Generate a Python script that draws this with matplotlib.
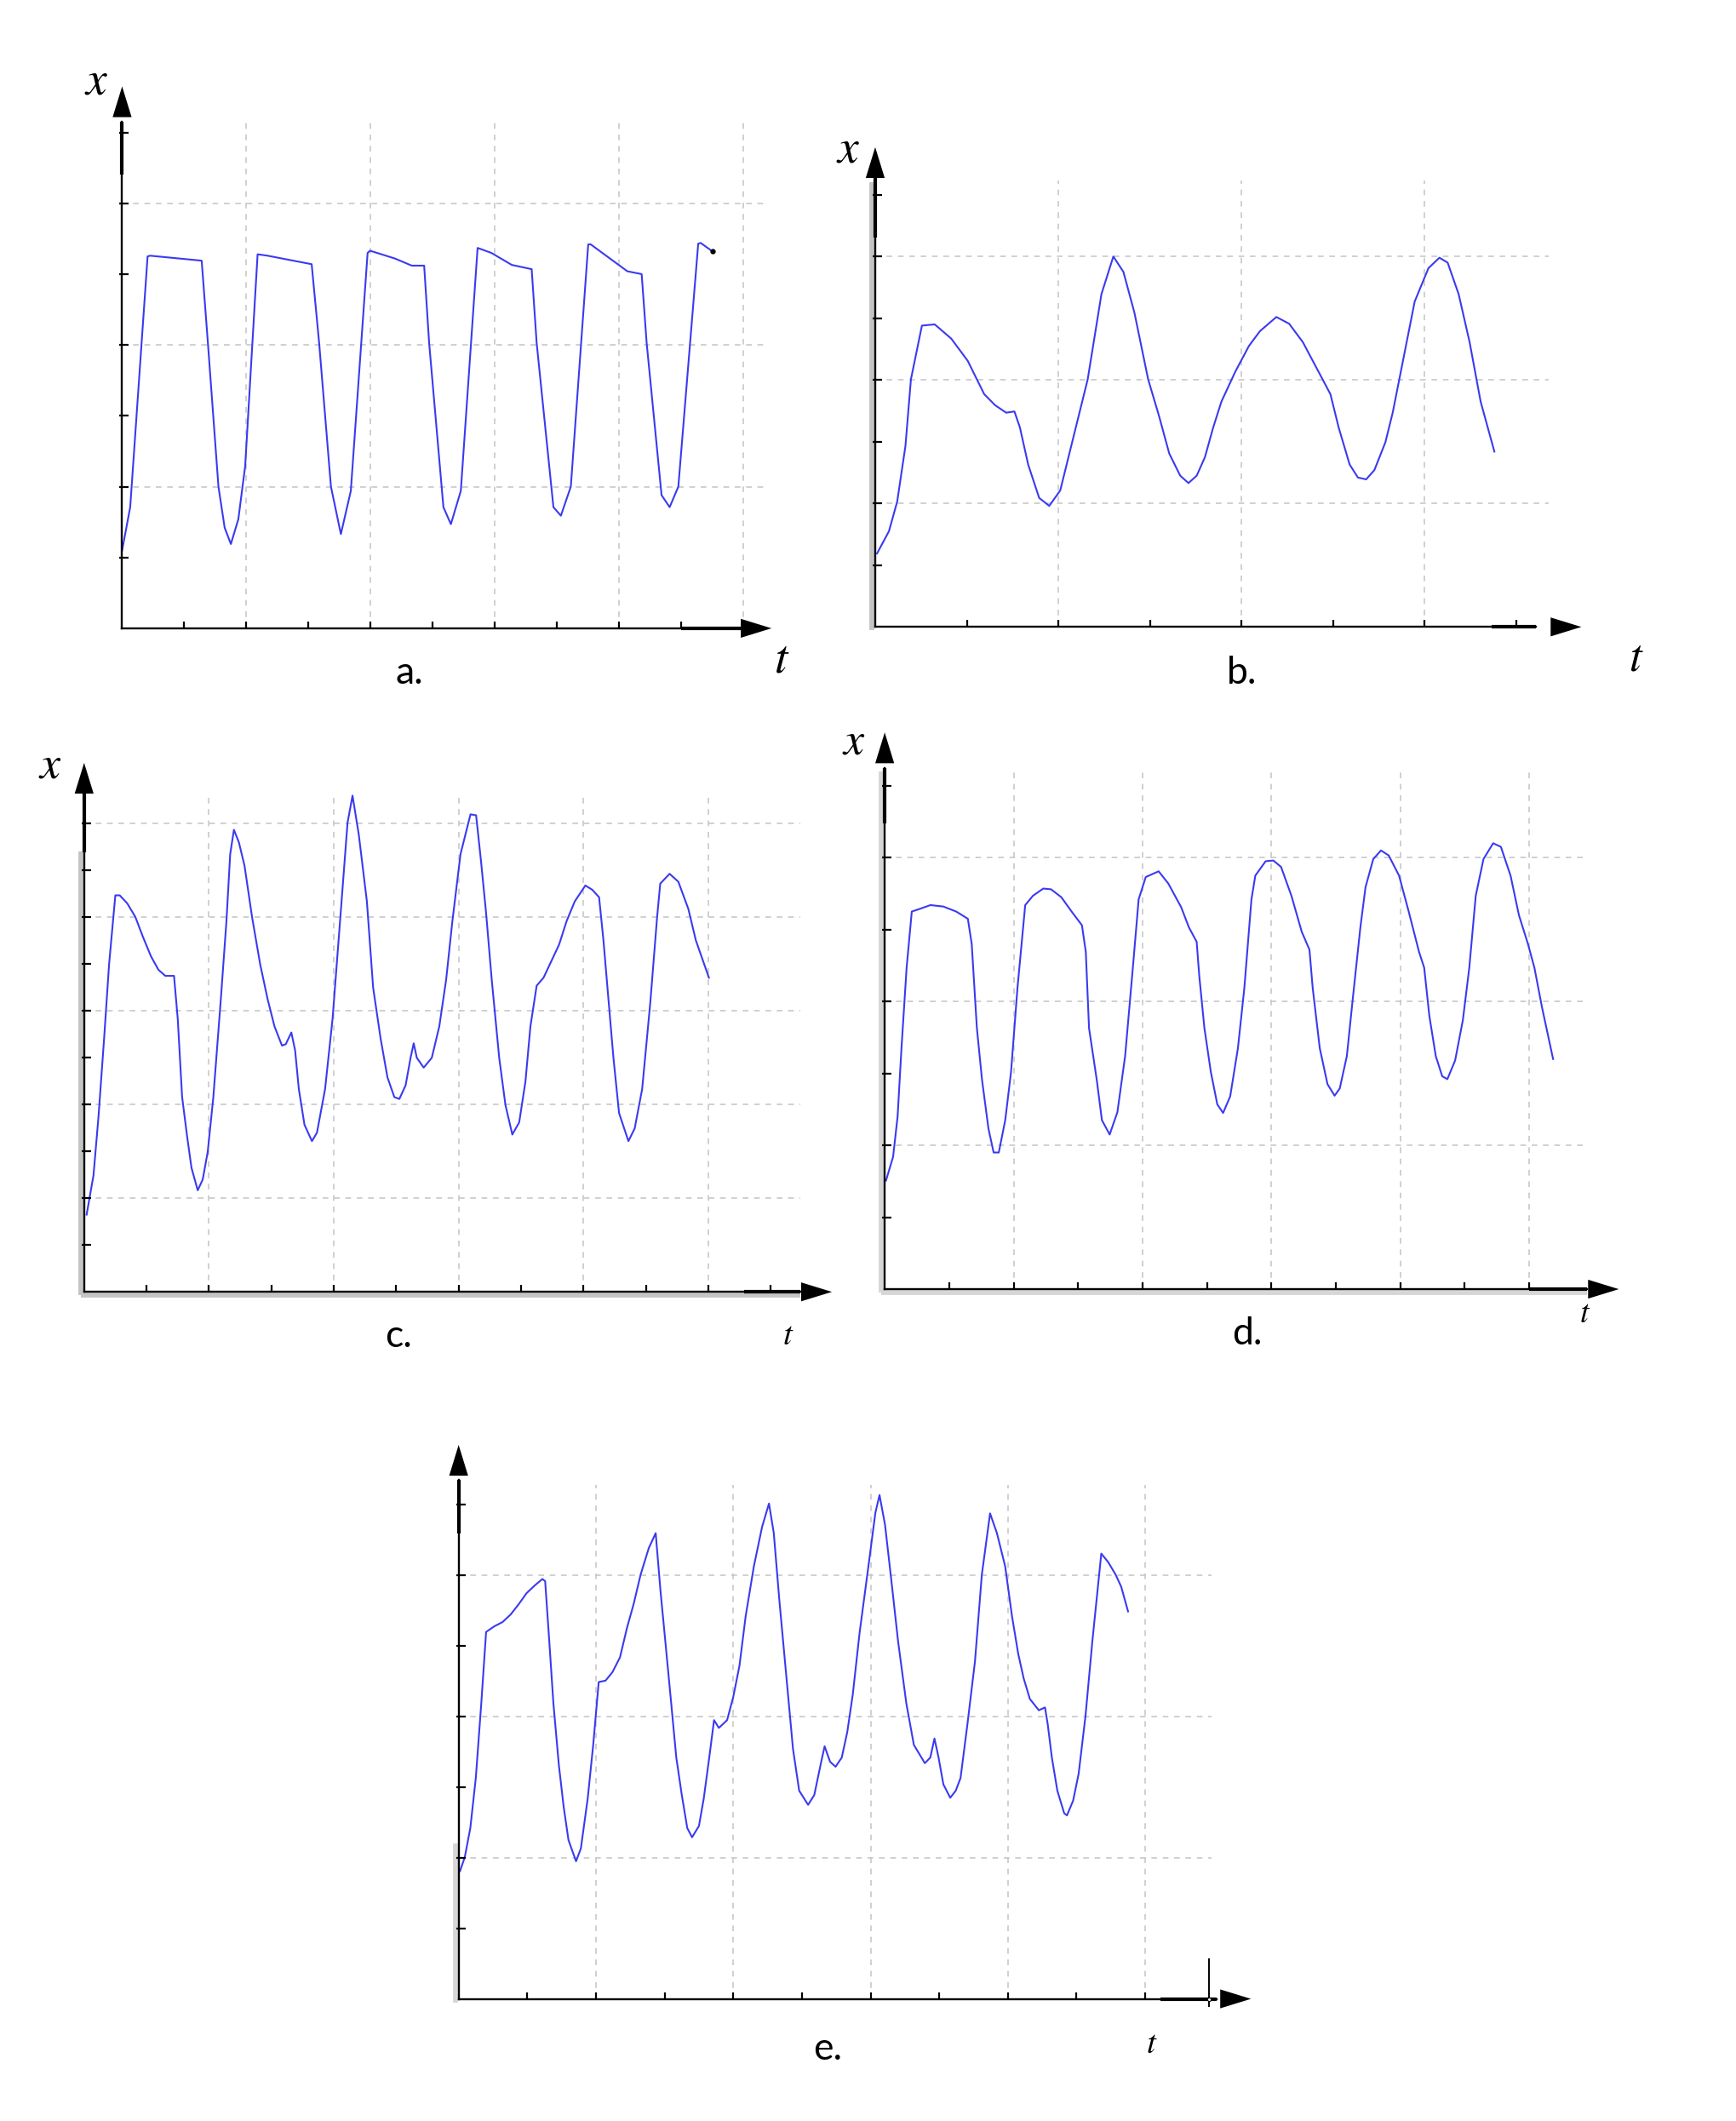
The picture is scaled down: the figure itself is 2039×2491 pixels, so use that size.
import matplotlib.pyplot as plt

plt.rcParams['mathtext.fontset'] = 'stix'

# reference layout grid (scaled view of the 2040x2491 picture)
W, H = 1280, 1563
BLUE = '#3a3af0'
GRID = '#c8c8c8'

# ---- curve data, in grid units (one unit = half a grid cell) ----
a_t = [0, 0.13, 0.41, 0.45, 1.28, 1.38, 1.55, 1.65, 1.75, 1.87, 1.98, 2.18,
       2.34, 3.05, 3.17, 3.36, 3.52, 3.68, 3.95, 3.99, 4.39, 4.66, 4.86,
       4.94, 5.17, 5.29, 5.45, 5.72, 5.94, 6.27, 6.59, 6.67, 6.94, 7.06,
       7.22, 7.5, 7.54, 7.85, 8.13, 8.36, 8.44, 8.68, 8.81, 8.95, 9.27,
       9.31, 9.5]
a_x = [1.1, 1.71, 5.25, 5.26, 5.19, 4.03, 2.0, 1.42, 1.19, 1.54, 2.29, 5.28,
       5.26, 5.14, 4.03, 2.0, 1.33, 1.94, 5.3, 5.33, 5.22, 5.12, 5.12,
       4.03, 1.71, 1.47, 1.94, 5.37, 5.3, 5.13, 5.07, 4.03, 1.71, 1.59,
       2.0, 5.42, 5.42, 5.22, 5.04, 5.0, 4.03, 1.88, 1.71, 2.0, 5.43,
       5.44, 5.32]

b_t = [0.02, 0.15, 0.24, 0.33, 0.39, 0.51, 0.65, 0.83, 1.01, 1.19, 1.31,
       1.43, 1.52, 1.58, 1.67, 1.79, 1.9, 2.02, 2.14, 2.32, 2.47, 2.6, 2.71,
       2.83, 2.98, 3.1, 3.21, 3.33, 3.42, 3.51, 3.6, 3.69, 3.78, 3.93, 4.08,
       4.2, 4.38, 4.52, 4.67, 4.82, 4.97, 5.06, 5.18, 5.27, 5.36, 5.45,
       5.57, 5.65, 5.77, 5.89, 6.04, 6.16, 6.25, 6.37, 6.49, 6.61, 6.76]
b_x = [1.19, 1.55, 2.03, 2.93, 4.01, 4.88, 4.9, 4.67, 4.31, 3.77, 3.59,
       3.47, 3.49, 3.23, 2.63, 2.09, 1.96, 2.21, 2.93, 4.01, 5.39, 6.0, 5.75,
       5.09, 4.01, 3.41, 2.81, 2.45, 2.33, 2.45, 2.75, 3.23, 3.65, 4.13, 4.55,
       4.79, 5.02, 4.91, 4.61, 4.19, 3.77, 3.23, 2.63, 2.42, 2.39, 2.54,
       2.99, 3.47, 4.37, 5.27, 5.81, 5.98, 5.9, 5.39, 4.61, 3.65, 2.84]

c_t = [0.04, 0.15, 0.23, 0.32, 0.4, 0.5, 0.57, 0.69, 0.82, 0.94, 1.07, 1.19,
       1.3, 1.44, 1.5, 1.57, 1.65, 1.72, 1.82, 1.9, 1.98, 2.07, 2.19, 2.28,
       2.34, 2.4, 2.48, 2.57, 2.69, 2.82, 2.94, 3.05, 3.17, 3.23, 3.32, 3.38,
       3.44, 3.53, 3.65, 3.73, 3.86, 3.98, 4.11, 4.22, 4.3, 4.4, 4.53, 4.63,
       4.75, 4.86, 4.97, 5.05, 5.15, 5.23, 5.28, 5.33, 5.44, 5.57, 5.69,
       5.8, 5.9, 6.03, 6.19, 6.28, 6.36, 6.44, 6.53, 6.65, 6.75, 6.86, 6.97,
       7.07, 7.15, 7.25, 7.36, 7.48, 7.61, 7.73, 7.86, 8.03, 8.14, 8.25,
       8.32, 8.4, 8.48, 8.57, 8.72, 8.82, 8.94, 9.07, 9.18, 9.23, 9.38,
       9.52, 9.68, 9.8, 10.01]
c_x = [1.65, 2.49, 3.74, 5.41, 7.0, 8.47, 8.47, 8.3, 8.01, 7.59, 7.17, 6.88,
       6.75, 6.75, 5.83, 4.16, 3.32, 2.65, 2.17, 2.4, 2.99, 4.16, 6.25, 7.92,
       9.35, 9.87, 9.6, 9.1, 8.01, 7.0, 6.25, 5.67, 5.26, 5.29, 5.54, 5.16,
       4.33, 3.57, 3.22, 3.4, 4.33, 5.83, 8.09, 10.02, 10.6, 9.77, 8.34, 6.5,
       5.41, 4.58, 4.16, 4.12, 4.41, 5.0, 5.31, 5.0, 4.79, 5.0, 5.67,
       6.67, 7.92, 9.35, 10.2, 10.18, 9.18, 8.09, 6.67, 5.0, 3.99, 3.36, 3.62,
       4.49, 5.67, 6.54, 6.71, 7.05, 7.42, 7.92, 8.34, 8.68, 8.59, 8.43,
       7.51, 6.25, 5.0, 3.82, 3.22, 3.49, 4.33, 6.17, 8.01, 8.72, 8.93,
       8.76, 8.18, 7.51, 6.71]

d_t = [0.02, 0.13, 0.2, 0.26, 0.34, 0.42, 0.52, 0.71, 0.91, 1.11, 1.29,
       1.35, 1.43, 1.51, 1.61, 1.69, 1.77, 1.87, 1.96, 2.06, 2.18, 2.3, 2.46,
       2.58, 2.74, 2.9, 3.06, 3.12, 3.17, 3.29, 3.37, 3.49, 3.61, 3.73, 3.85,
       3.94, 4.05, 4.25, 4.4, 4.6, 4.72, 4.84, 4.88, 4.96, 5.06, 5.16, 5.25,
       5.36, 5.48, 5.58, 5.69, 5.75, 5.91, 6.03, 6.15, 6.31, 6.47, 6.59,
       6.64, 6.75, 6.87, 6.98, 7.06, 7.17, 7.26, 7.38, 7.46, 7.58, 7.7, 7.82,
       7.98, 8.13, 8.29, 8.37, 8.45, 8.55, 8.65, 8.73, 8.85, 8.97, 9.07,
       9.17, 9.29, 9.44, 9.56, 9.71, 9.84, 9.98, 10.08, 10.2, 10.37]
d_x = [1.51, 1.84, 2.4, 3.35, 4.47, 5.25, 5.28, 5.34, 5.32, 5.25, 5.15,
       4.8, 3.63, 2.91, 2.23, 1.9, 1.9, 2.35, 3.02, 4.19, 5.34, 5.47, 5.57,
       5.56, 5.45, 5.25, 5.06, 4.69, 3.63, 2.91, 2.35, 2.15, 2.46, 3.24, 4.47,
       5.42, 5.73, 5.81, 5.64, 5.31, 5.03, 4.83, 4.36, 3.63, 3.02, 2.57, 2.45,
       2.68, 3.35, 4.19, 5.42, 5.75, 5.95, 5.96, 5.87, 5.47, 4.97, 4.72,
       4.19, 3.35, 2.85, 2.69, 2.79, 3.24, 4.02, 5.03, 5.59, 5.98, 6.1, 6.03,
       5.75, 5.25, 4.69, 4.47, 3.8, 3.24, 2.96, 2.92, 3.18, 3.74, 4.47,
       5.47, 5.98, 6.2, 6.15, 5.75, 5.2, 4.8, 4.47, 3.91, 3.2]

e_t = [0.02, 0.09, 0.17, 0.25, 0.33, 0.4, 0.52, 0.64, 0.76, 0.88, 0.99,
       1.11, 1.22, 1.26, 1.32, 1.38, 1.46, 1.53, 1.6, 1.71, 1.78, 1.88, 1.96,
       2.04, 2.14, 2.24, 2.35, 2.45, 2.55, 2.65, 2.77, 2.87, 2.94, 3.01, 3.09,
       3.17, 3.25, 3.33, 3.4, 3.5, 3.57, 3.65, 3.72, 3.79, 3.91, 4.0, 4.09,
       4.18, 4.3, 4.42, 4.52, 4.59, 4.67, 4.77, 4.87, 4.96, 5.09, 5.18, 5.27,
       5.33, 5.41, 5.49, 5.58, 5.66, 5.74, 5.84, 5.96, 6.07, 6.13, 6.21, 6.3,
       6.4, 6.52, 6.63, 6.79, 6.87, 6.93, 6.99, 7.06, 7.16, 7.24, 7.31, 7.41,
       7.52, 7.62, 7.74, 7.84, 7.96, 8.06, 8.15, 8.23, 8.32, 8.45, 8.54,
       8.58, 8.64, 8.72, 8.82, 8.86, 8.95, 9.03, 9.13, 9.23, 9.36, 9.46,
       9.57, 9.65, 9.75]
e_x = [1.81, 2.01, 2.42, 3.13, 4.19, 5.2, 5.28, 5.34, 5.45, 5.6, 5.75,
       5.86, 5.95, 5.92, 5.07, 4.19, 3.31, 2.72, 2.25, 1.95, 2.13, 2.84, 3.6,
       4.49, 4.51, 4.63, 4.84, 5.25, 5.6, 6.01, 6.39, 6.6, 5.78, 5.07, 4.25,
       3.42, 2.89, 2.42, 2.29, 2.45, 2.84, 3.42, 3.95, 3.84, 3.95, 4.28, 4.72,
       5.42, 6.13, 6.69, 7.02, 6.6, 5.66, 4.6, 3.54, 2.95, 2.75, 2.89, 3.31,
       3.58, 3.36, 3.29, 3.42, 3.78, 4.31, 5.19, 6.07, 6.89, 7.14, 6.72, 5.95,
       5.07, 4.19, 3.6, 3.34, 3.42, 3.69, 3.42, 3.04, 2.85, 2.95, 3.13, 3.89,
       4.78, 6.01, 6.88, 6.6, 6.13, 5.42, 4.89, 4.54, 4.25, 4.09, 4.13,
       3.89, 3.42, 2.95, 2.63, 2.6, 2.81, 3.19, 4.01, 5.07, 6.31, 6.19,
       6.01, 5.84, 5.49]


fig = plt.figure(figsize=(20.4, 24.91), dpi=100)


def panel(ox, oy, ux, uy, x0, x1, y0, y1):
    left = (ox + x0 * ux) / W
    right = (ox + x1 * ux) / W
    bottom = 1 - (oy - y0 * uy) / H
    top = 1 - (oy - y1 * uy) / H
    ax = fig.add_axes([left, bottom, right - left, top - bottom])
    ax.set_xlim(x0, x1)
    ax.set_ylim(y0, y1)
    ax.axis('off')
    return ax


def frame(ax, ux, uy, xgrid, ygrid, gtop, gright, nxt, nyt, xtip, ytip,
          xthick, ythick, band=None):
    dash = (0, (4, 4))
    ax.vlines(xgrid, 0, gtop, colors=GRID, lw=1.2, linestyles=dash, zorder=1)
    ax.hlines(ygrid, 0, gright, colors=GRID, lw=1.2, linestyles=dash, zorder=1)
    if band is not None:
        col, y_top, x_right = band
        off_x = 2.6 / ux
        off_y = 2.6 / uy
        ax.plot([-off_x, -off_x], [-off_y, y_top], color=col, lw=4.2,
                solid_capstyle='butt', zorder=1.5)
        if x_right:
            ax.plot([-off_x, x_right], [-off_y, -off_y], color=col, lw=4.2,
                    solid_capstyle='butt', zorder=1.5)
    # axis lines
    ax.plot([0, xtip - 0.5], [0, 0], color='k', lw=1.7, zorder=3)
    ax.plot([0, 0], [0, ytip - 0.5], color='k', lw=1.7, zorder=3)
    ax.plot([xthick, xtip - 0.5], [0, 0], color='k', lw=3.0, zorder=3,
            solid_capstyle='butt')
    ax.plot([0, 0], [ythick, ytip - 0.5], color='k', lw=3.0, zorder=3,
            solid_capstyle='butt')
    # ticks
    xt = list(range(1, nxt + 1))
    yt = list(range(1, nyt + 1))
    ax.plot(xt, [0] * len(xt), ls='', marker=2, ms=6, mew=1.6, color='k',
            zorder=3)
    ax.plot([0] * len(yt), yt, ls='', marker=1, ms=6, mew=1.6, color='k',
            zorder=3)
    ax.plot([0] * len(yt), yt, ls='', marker=0, ms=2.5, mew=1.6, color='k',
            zorder=3)
    # arrow heads
    hp = dict(arrowstyle='-|>,head_length=2.6,head_width=0.8',
              mutation_scale=10, color='k', lw=0, shrinkA=0, shrinkB=0)
    ax.annotate('', xy=(xtip, 0), xytext=(xtip - 0.6, 0), arrowprops=hp)
    ax.annotate('', xy=(0, ytip), xytext=(0, ytip - 0.6), arrowprops=hp)


def label(x, y, s, kind, size):
    fx, fy = x / W, 1 - y / H
    if kind == 'var':
        fig.text(fx, fy, '$%s$' % s, fontsize=size, ha='center', va='center')
    else:
        fig.text(fx, fy, s, fontsize=size, family='Lato', ha='center',
                 va='center')


# ---- a ----
ax = panel(90, 463, 45.8, 52.2, -0.6, 10.8, -0.6, 7.9)
frame(ax, 45.8, 52.2, [2, 4, 6, 8, 10], [2, 4, 6], 7.2, 10.4, 10, 7,
      10.45, 7.65, 9.0, 6.4)
ax.plot(a_t, a_x, color=BLUE, lw=1.5, zorder=2)
ax.plot(a_t[-1:], a_x[-1:], 'o', color='k', ms=3.5, zorder=4)
label(71, 60, 'x', 'var', 40)
label(576, 486, 't', 'var', 40)
label(302, 496, 'a.', 'txt', 32)

# ---- b ----
ax = panel(645, 462, 67.5, 45.5, -0.5, 7.9, -0.6, 8.0)
frame(ax, 67.5, 45.5, [2, 4, 6], [2, 4, 6], 7.23, 7.35, 7, 7,
      7.71, 7.77, 6.73, 6.31, band=('#c4c4c4', 7.2, None))
ax.plot(b_t, b_x, color=BLUE, lw=1.5, zorder=2)
label(625, 110, 'x', 'var', 40)
label(1206, 485, 't', 'var', 38)
label(915, 496, 'b.', 'txt', 32)

# ---- c ----
ax = panel(62, 952, 46, 34.5, -0.6, 12.2, -0.8, 11.5)
frame(ax, 46, 34.5, [2, 4, 6, 8, 10], [2, 4, 6, 8, 10], 10.6, 11.48, 11, 10,
      11.98, 11.3, 10.57, 9.39, band=('#c4c4c4', 9.4, 11.48))
ax.plot(c_t, c_x, color=BLUE, lw=1.5, zorder=2)
label(37, 564, 'x', 'var', 39)
label(581, 984, 't', 'var', 28)
label(294, 985, 'c.', 'txt', 32)

# ---- d ----
ax = panel(652, 950, 47.5, 53, -0.6, 11.6, -0.6, 7.9)
frame(ax, 47.5, 53, [2, 4, 6, 8, 10], [2, 4, 6], 7.23, 10.9, 10, 7,
      11.39, 7.74, 10.0, 6.48, band=('#d6d6d6', 7.2, 10.9))
ax.plot(d_t, d_x, color=BLUE, lw=1.5, zorder=2)
label(629, 546, 'x', 'var', 39)
label(1168, 968, 't', 'var', 27)
label(919, 983, 'd.', 'txt', 32)

# ---- e ----
ax = panel(338, 1473, 50.6, 52, -0.6, 11.8, -0.6, 8.0)
frame(ax, 50.6, 52, [2, 4, 6, 8, 10], [2, 4, 6], 7.28, 10.96, 10, 7,
      11.54, 7.85, 10.22, 6.6, band=('#d6d6d6', 2.2, None))
ax.plot(e_t, e_x, color=BLUE, lw=1.5, zorder=2)
ax.plot([10.93, 10.93], [-0.1, 0.56], color='k', lw=1.4, zorder=3)
ax.plot([10.93], [0], 'o', ms=3, mfc='white', mec='k', mew=0.8, zorder=4)
label(849, 1506, 't', 'var', 28)
label(610, 1510, 'e.', 'txt', 32)

fig.savefig('out.png', dpi=100, facecolor='white')
